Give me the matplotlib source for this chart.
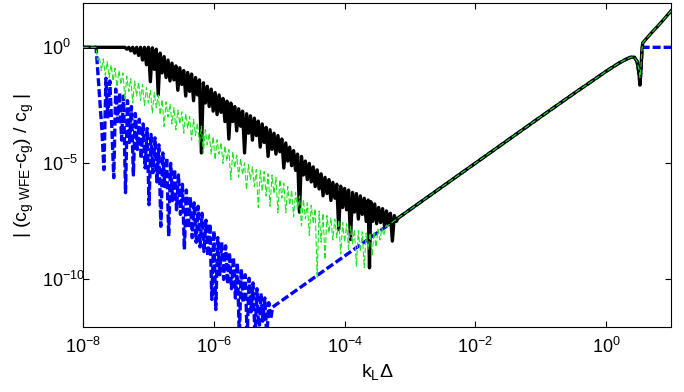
import matplotlib
matplotlib.use('Agg')
import matplotlib.pyplot as plt
import numpy as np

plt.rcParams['font.family'] = ['Liberation Sans', 'DejaVu Sans']
plt.rcParams['mathtext.fontset'] = 'custom'
plt.rcParams['mathtext.rm'] = 'Liberation Sans'
plt.rcParams['mathtext.it'] = 'Liberation Sans'
plt.rcParams['axes.unicode_minus'] = False

# values, stored as (log10 kL*Delta, log10 error)
black_noise = [
    (-8.00, 0.00), (-7.36, 0.00), (-7.33, -0.08), (-7.30, 0.00), (-7.27, -0.15), (-7.24, 0.00),
    (-7.21, -0.25), (-7.18, 0.00), (-7.15, -0.35), (-7.12, 0.00), (-7.09, -0.55), (-7.06, 0.00),
    (-7.03, -0.75), (-7.00, 0.00), (-6.97, -1.48), (-6.94, -0.02), (-6.91, -0.95), (-6.88, -0.08),
    (-6.85, -2.05), (-6.82, -0.25), (-6.79, -1.10), (-6.76, -0.40), (-6.73, -1.30), (-6.70, -0.55),
    (-6.67, -1.45), (-6.64, -0.68), (-6.61, -1.40), (-6.58, -0.80), (-6.55, -1.85), (-6.52, -0.88),
    (-6.49, -1.60), (-6.46, -1.00), (-6.43, -2.10), (-6.40, -1.08), (-6.37, -1.90), (-6.34, -1.15),
    (-6.31, -2.30), (-6.28, -1.30), (-6.25, -2.05), (-6.22, -1.40), (-6.19, -4.55), (-6.16, -1.53),
    (-6.13, -2.40), (-6.10, -1.68), (-6.07, -2.55), (-6.04, -1.80), (-6.01, -2.75), (-5.98, -1.95),
    (-5.95, -2.90), (-5.92, -2.05), (-5.89, -2.80), (-5.86, -2.20), (-5.83, -3.20), (-5.80, -2.32),
    (-5.77, -3.95), (-5.74, -2.40), (-5.71, -3.20), (-5.68, -2.55), (-5.65, -3.60), (-5.62, -2.65),
    (-5.59, -3.40), (-5.56, -2.75), (-5.53, -4.55), (-5.50, -2.86), (-5.47, -3.70), (-5.44, -2.95),
    (-5.41, -4.00), (-5.38, -3.05), (-5.35, -3.80), (-5.32, -3.18), (-5.29, -4.30), (-5.26, -3.30),
    (-5.23, -4.10), (-5.20, -3.45), (-5.17, -4.70), (-5.14, -3.55), (-5.11, -4.40), (-5.08, -3.70),
    (-5.05, -4.60), (-5.02, -3.80), (-4.99, -4.50), (-4.96, -3.95), (-4.93, -5.20), (-4.90, -4.12),
    (-4.87, -4.90), (-4.84, -4.30), (-4.81, -5.10), (-4.78, -4.45), (-4.75, -5.30), (-4.72, -4.60),
    (-4.69, -7.10), (-4.66, -4.70), (-4.63, -5.50), (-4.60, -4.90), (-4.57, -5.70), (-4.54, -5.00),
    (-4.51, -5.80), (-4.48, -5.15), (-4.45, -6.00), (-4.42, -5.28), (-4.39, -6.10), (-4.36, -5.45),
    (-4.33, -6.40), (-4.30, -5.60), (-4.27, -6.30), (-4.24, -5.70), (-4.21, -6.60), (-4.18, -5.82),
    (-4.15, -6.50), (-4.12, -5.90), (-4.09, -7.85), (-4.06, -5.98), (-4.03, -6.90), (-4.00, -6.08),
    (-3.97, -7.00), (-3.94, -6.15), (-3.91, -8.28), (-3.88, -6.25), (-3.85, -7.10), (-3.82, -6.30),
    (-3.79, -7.40), (-3.76, -6.40), (-3.73, -7.20), (-3.70, -6.50), (-3.67, -7.50), (-3.64, -6.58),
    (-3.62, -9.50), (-3.60, -6.65), (-3.57, -7.50), (-3.54, -6.75), (-3.51, -7.60), (-3.48, -6.90),
    (-3.45, -7.55), (-3.42, -6.95), (-3.39, -7.70), (-3.36, -7.05), (-3.33, -7.65), (-3.30, -7.15),
    (-3.27, -8.35), (-3.24, -7.25), (-3.21, -7.50),
]

green_noise = [
    (-8.00, 0.00), (-7.80, 0.00), (-7.78, -0.55), (-7.75, -0.40), (-7.72, -1.00), (-7.69, -0.50),
    (-7.66, -1.20), (-7.63, -0.62), (-7.60, -1.30), (-7.57, -0.75), (-7.54, -1.45), (-7.51, -0.90),
    (-7.48, -1.70), (-7.45, -1.00), (-7.42, -1.60), (-7.39, -1.10), (-7.36, -2.20), (-7.33, -1.25),
    (-7.30, -1.90), (-7.27, -1.35), (-7.24, -2.40), (-7.21, -1.45), (-7.18, -2.10), (-7.15, -1.50),
    (-7.12, -2.30), (-7.09, -1.60), (-7.06, -2.50), (-7.03, -1.72), (-7.00, -2.40), (-6.97, -1.85),
    (-6.94, -2.83), (-6.91, -1.95), (-6.88, -2.60), (-6.85, -2.05), (-6.82, -2.90), (-6.79, -2.25),
    (-6.76, -3.41), (-6.73, -2.35), (-6.70, -3.00), (-6.67, -2.45), (-6.64, -3.30), (-6.61, -2.60),
    (-6.58, -3.55), (-6.55, -2.70), (-6.52, -3.30), (-6.49, -2.78), (-6.46, -3.70), (-6.43, -2.85),
    (-6.40, -3.50), (-6.37, -2.98), (-6.34, -4.00), (-6.31, -3.10), (-6.28, -3.80), (-6.25, -3.25),
    (-6.22, -4.20), (-6.19, -3.40), (-6.16, -4.55), (-6.13, -3.55), (-6.10, -4.20), (-6.07, -3.70),
    (-6.04, -4.60), (-6.01, -3.85), (-5.98, -4.84), (-5.95, -3.98), (-5.92, -4.60), (-5.89, -4.10),
    (-5.86, -5.00), (-5.83, -4.25), (-5.80, -4.90), (-5.77, -4.40), (-5.74, -5.70), (-5.71, -4.50),
    (-5.68, -5.20), (-5.65, -4.65), (-5.62, -5.60), (-5.59, -4.80), (-5.56, -5.50), (-5.53, -4.98),
    (-5.50, -6.13), (-5.47, -5.05), (-5.44, -5.70), (-5.41, -5.15), (-5.38, -6.00), (-5.35, -5.27),
    (-5.32, -6.90), (-5.29, -5.30), (-5.26, -6.20), (-5.23, -5.35), (-5.20, -6.40), (-5.17, -5.45),
    (-5.14, -6.85), (-5.11, -5.50), (-5.08, -6.30), (-5.05, -5.60), (-5.02, -7.13), (-4.99, -5.70),
    (-4.96, -6.50), (-4.93, -5.85), (-4.90, -7.13), (-4.87, -6.00), (-4.84, -6.80), (-4.81, -6.15),
    (-4.78, -7.30), (-4.75, -6.25), (-4.72, -7.00), (-4.69, -6.40), (-4.66, -7.70), (-4.63, -6.56),
    (-4.60, -7.40), (-4.57, -6.70), (-4.54, -8.10), (-4.51, -6.80), (-4.48, -7.60), (-4.45, -6.95),
    (-4.42, -9.90), (-4.39, -7.05), (-4.36, -8.40), (-4.33, -7.15), (-4.30, -9.14), (-4.27, -7.25),
    (-4.24, -8.00), (-4.21, -7.35), (-4.18, -8.30), (-4.15, -7.40), (-4.12, -8.20), (-4.09, -7.45),
    (-4.06, -8.90), (-4.03, -7.55), (-4.00, -8.40), (-3.97, -7.60), (-3.94, -8.71), (-3.91, -7.70),
    (-3.88, -8.50), (-3.85, -7.85), (-3.82, -9.43), (-3.79, -7.90), (-3.76, -8.80), (-3.73, -7.95),
    (-3.70, -9.50), (-3.67, -8.00), (-3.64, -8.70), (-3.61, -8.00), (-3.58, -9.00), (-3.55, -7.95),
    (-3.52, -8.60), (-3.49, -7.85), (-3.46, -8.30), (-3.43, -7.80), (-3.40, -8.10), (-3.37, -7.70),
    (-3.34, -7.68),
]

blue_noise = [
    (-8.00, 0.00), (-7.80, 0.00), (-7.77, -1.20), (-7.74, -2.40), (-7.71, -3.60), (-7.68, -5.27),
    (-7.65, -1.33), (-7.62, -3.00), (-7.59, -1.45), (-7.56, -3.40), (-7.53, -5.62), (-7.50, -1.80),
    (-7.47, -3.20), (-7.44, -1.95), (-7.41, -4.00), (-7.38, -2.10), (-7.35, -6.26), (-7.32, -2.30),
    (-7.29, -4.10), (-7.26, -2.55), (-7.23, -5.50), (-7.20, -2.85), (-7.17, -4.40), (-7.14, -3.10),
    (-7.11, -4.80), (-7.08, -3.30), (-7.05, -5.20), (-7.02, -3.50), (-6.99, -6.78), (-6.96, -3.75),
    (-6.93, -5.40), (-6.90, -3.90), (-6.87, -5.80), (-6.84, -4.20), (-6.81, -7.71), (-6.78, -4.55),
    (-6.75, -6.00), (-6.72, -4.75), (-6.69, -8.14), (-6.66, -5.00), (-6.63, -6.60), (-6.60, -5.25),
    (-6.57, -7.00), (-6.54, -5.50), (-6.51, -7.20), (-6.48, -5.90), (-6.45, -8.71), (-6.42, -6.15),
    (-6.39, -7.80), (-6.36, -6.45), (-6.33, -8.20), (-6.30, -6.70), (-6.27, -8.40), (-6.24, -6.85),
    (-6.21, -8.60), (-6.18, -7.15), (-6.15, -8.80), (-6.12, -7.45), (-6.09, -9.00), (-6.06, -7.60),
    (-6.03, -10.86), (-6.00, -7.90), (-5.97, -11.30), (-5.94, -8.20), (-5.91, -9.80), (-5.88, -8.40),
    (-5.85, -10.00), (-5.82, -8.55), (-5.79, -10.20), (-5.76, -8.85), (-5.73, -10.40), (-5.70, -9.05),
    (-5.67, -10.80), (-5.64, -9.30), (-5.61, -12.50), (-5.58, -9.55), (-5.55, -11.00), (-5.52, -9.80),
    (-5.49, -12.50), (-5.46, -9.95), (-5.43, -11.40), (-5.40, -10.15), (-5.37, -12.50), (-5.34, -10.40),
    (-5.31, -12.50), (-5.28, -10.60), (-5.25, -11.80), (-5.22, -10.80), (-5.19, -12.50), (-5.16, -11.00),
    (-5.13, -11.70), (-5.10, -11.19), (-4.50, -9.99), (-4.00, -8.99), (-3.50, -7.99),
]

# common part of all three curves (slope-2 branch, resonance dip, steep rise)
line_lx = [-3.18, -3.0, -2.5, -2.0, -1.5, -1.0, -0.5, -0.2, 0.0, 0.2, 0.3, 0.38, 0.43,
           0.47, 0.50, 0.515, 0.53, 0.545, 0.56, 0.6, 0.7, 0.8, 0.9, 1.0]
black_line = [-7.35, -6.99, -5.99, -4.99, -3.99, -2.99, -2.0, -1.42, -1.03, -0.67, -0.52, -0.42, -0.43,
              -0.6, -1.1, -1.62, -1.0, -0.1, 0.2, 0.33, 0.65, 0.95, 1.27, 1.6]
green_line = [-7.35, -6.99, -5.99, -4.99, -3.99, -2.99, -2.0, -1.42, -1.03, -0.67, -0.52, -0.42, -0.43,
              -0.6, -0.95, -1.3, -0.9, -0.1, 0.2, 0.33, 0.65, 0.95, 1.27, 1.6]
blue_tail_lx = [0.55, 1.0]
blue_tail = [0.0, 0.0]


def series(noise, lx, ly):
    x = [p[0] for p in noise] + list(lx)
    y = [p[1] for p in noise] + list(ly)
    return 10.0 ** np.array(x), 10.0 ** np.array(y)


fig = plt.figure(figsize=(6.84, 3.92), dpi=100)
ax = fig.add_axes([83 / 684, 1 - 327 / 392, 588 / 684, 324 / 392])

bx, by = series(blue_noise, line_lx[:-7] + blue_tail_lx, black_line[:-7] + blue_tail)
kx, ky = series(black_noise, line_lx, black_line)
gx, gy = series(green_noise, line_lx, green_line)

ax.loglog(bx, by, color='#0000ff', lw=2.4, dashes=(2.4, 0.9), zorder=1)
ax.loglog(kx, ky, color='k', lw=2.4, zorder=2)
ax.loglog(gx, gy, color='#22e022', lw=0.8, dashes=(5, 2), zorder=3)

ax.set_xlim(1e-8, 10 ** 0.99)
ax.set_ylim(10 ** -12.05, 10 ** 1.91)
ax.set_xticks([1e-8, 1e-6, 1e-4, 1e-2, 1e0])
ax.set_yticks([1e-10, 1e-5, 1e0])
ax.minorticks_off()
ax.tick_params(which='both', direction='in', top=True, right=True, length=4.5, width=0.8,
               labelsize=13)
ax.tick_params(axis='x', pad=7)
ax.tick_params(axis='y', pad=29.5)
for lab in ax.get_yticklabels():
    lab.set_ha('left')
for s in ax.spines.values():
    s.set_linewidth(0.8)

ax.set_xlabel(r'$\mathregular{k_L\Delta}$', fontsize=14, labelpad=4)
ax.set_ylabel(r'$\mathregular{|\ (c_{g\ WFE}\text{-}c_g)\ /\ c_g\ |}$', fontsize=14, labelpad=4)

plt.savefig('out.png', dpi=100)
